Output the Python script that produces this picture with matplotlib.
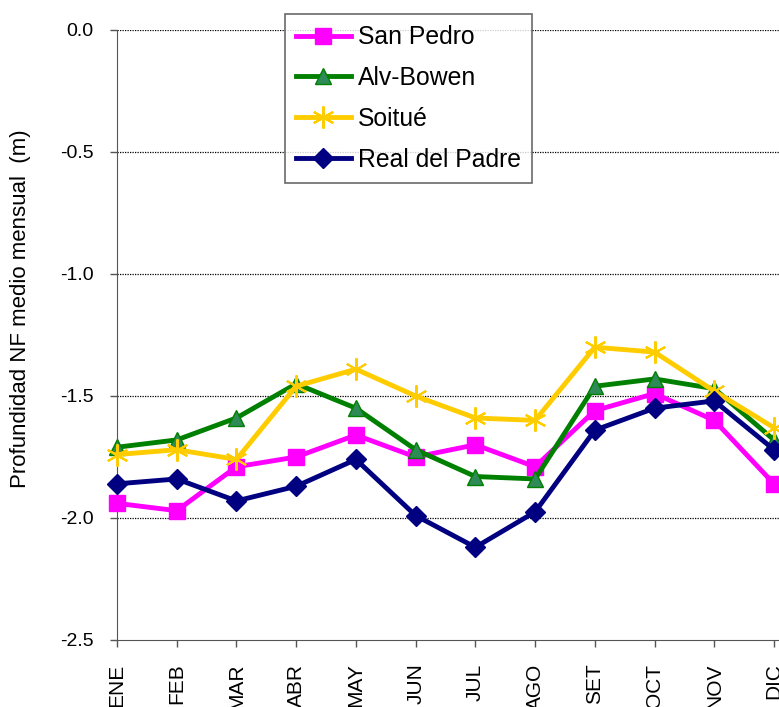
import numpy as np
import matplotlib
matplotlib.use("Agg")
import matplotlib.pyplot as plt

plt.rcParams['font.family'] = ['Liberation Sans', 'DejaVu Sans']

# months
meses = ["ENE", "FEB", "MAR", "ABR", "MAY", "JUN", "JUL", "AGO", "SET", "OCT", "NOV", "DIC"]

# monthly mean water table depth (m)
san_pedro = [-1.94, -1.97, -1.79, -1.75, -1.66, -1.75, -1.70, -1.79, -1.56, -1.49, -1.60, -1.86]
alv_bowen = [-1.71, -1.68, -1.59, -1.45, -1.55, -1.72, -1.83, -1.84, -1.46, -1.43, -1.47, -1.68]
soitue = [-1.74, -1.72, -1.76, -1.46, -1.39, -1.50, -1.59, -1.60, -1.30, -1.32, -1.48, -1.63]
real_padre = [-1.86, -1.84, -1.93, -1.87, -1.76, -1.99, -2.12, -1.975, -1.64, -1.55, -1.52, -1.72]

fig = plt.figure(figsize=(7.79, 7.07), dpi=100)
ax = fig.add_axes([117/779, 1-640/707, 1-117/779, 610/707])

x = np.arange(len(meses))
lw = 3.5
ax.plot(x, san_pedro, color='#FF00FF', lw=lw, marker='s', ms=12, mfc='#FF00FF', mec='#FF00FF',
        label='San Pedro', clip_on=False, zorder=3)
ax.plot(x, alv_bowen, color='#008000', lw=lw, marker='^', ms=12, mfc='#2E8B57', mec='#008000',
        label='Alv-Bowen', clip_on=False, zorder=3)
ax.plot(x, soitue, color='#FFCC00', lw=lw, marker=(6, 2, 0), ms=16, mew=1.5, mec='#FFCC00',
        label='Soitué', clip_on=False, zorder=3)
ax.plot(x, real_padre, color='#000080', lw=lw, marker='D', ms=10, mfc='#000080', mec='#000080',
        label='Real del Padre', clip_on=False, zorder=3)

ax.set_xlim(0, 11 * 662 / 657)
ax.set_ylim(-2.5, 0.0)
ax.set_yticks(np.arange(-2.5, 0.01, 0.5))
ax.set_yticklabels([f"{v:.1f}" for v in np.arange(-2.5, 0.01, 0.5)])
ax.set_xticks(x)
ax.set_xticklabels(meses, rotation=90, va='top')
ax.tick_params(axis='both', direction='out', length=5, width=1, color='#555555')
ax.tick_params(axis='y', pad=12, labelsize=14)
ax.tick_params(axis='x', pad=12, labelsize=15)

for v in np.arange(-2.0, 0.01, 0.5):
    ax.axhline(v, color='black', lw=0.9, ls=(0, (1, 1)), zorder=1)

for s in ['top', 'right']:
    ax.spines[s].set_visible(False)
ax.spines['left'].set_color('#555555')
ax.spines['bottom'].set_color('#555555')

ax.set_ylabel("Profundidad NF medio mensual  (m)", fontsize=16)
ax.yaxis.set_label_coords(-0.130, 0.543)

leg = ax.legend(loc='upper left', bbox_to_anchor=(0.254, 1.026), fontsize=17.8, frameon=True,
                fancybox=False, edgecolor='#444444', handlelength=2.2, handletextpad=0.3,
                labelspacing=0.68, borderpad=0.45, borderaxespad=0)
leg.get_frame().set_linewidth(1.2)

fig.savefig("out.png", dpi=100)
